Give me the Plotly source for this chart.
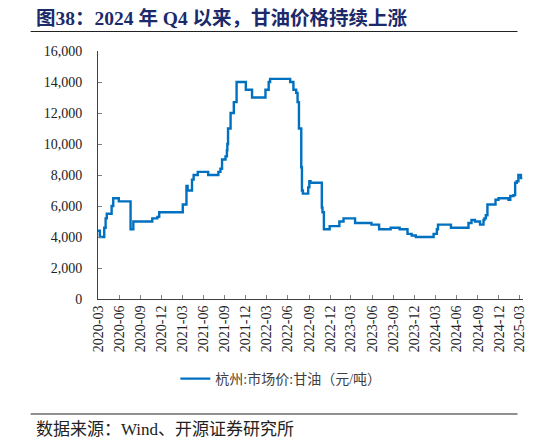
import plotly.graph_objects as go

dates = ['2020-03-01', '2020-03-09', '2020-03-28', '2020-04-03', '2020-04-08', '2020-04-29',
         '2020-05-06', '2020-05-30', '2020-07-20', '2020-08-01', '2020-10-22', '2020-11-13',
         '2020-11-21', '2021-03-03', '2021-03-19', '2021-03-24', '2021-04-12', '2021-04-19',
         '2021-05-07', '2021-06-21', '2021-08-04', '2021-08-13', '2021-08-20', '2021-09-04',
         '2021-09-10', '2021-09-12', '2021-09-15', '2021-09-26', '2021-10-10', '2021-10-22',
         '2021-12-01', '2021-12-28', '2022-02-24', '2022-03-10', '2022-03-16', '2022-06-11',
         '2022-06-25', '2022-07-07', '2022-07-13', '2022-07-19', '2022-07-29', '2022-08-01',
         '2022-08-05', '2022-08-28', '2022-09-02', '2022-09-07', '2022-10-26', '2022-10-29',
         '2022-11-04', '2022-11-29', '2023-01-10', '2023-01-28', '2023-03-19', '2023-05-29',
         '2023-07-01', '2023-08-20', '2023-09-28', '2023-11-01', '2023-11-19', '2023-12-07',
         '2024-02-22', '2024-03-07', '2024-03-12', '2024-05-07', '2024-07-22', '2024-08-04',
         '2024-08-19', '2024-09-10', '2024-09-25', '2024-09-29', '2024-10-05', '2024-10-12',
         '2024-11-16', '2024-11-29', '2025-01-11', '2025-01-19', '2025-02-02', '2025-02-09',
         '2025-02-16', '2025-02-23', '2025-03-06', '2025-03-12']
prices = [4400, 4000, 4600, 5200, 5500, 6000,
          6500, 6300, 4500, 5000, 5200, 5300,
          5600, 6100, 7300, 7000, 7700, 8000,
          8200, 8000, 8200, 8400, 9000, 9200,
          9600, 10000, 11000, 12000, 12700, 14000,
          13500, 13000, 13500, 14000, 14200, 14000,
          13500, 13300, 12700, 11000, 8500, 7000,
          6800, 7200, 7600, 7500, 5900, 5600,
          4500, 4700, 5000, 5200, 4900, 4800,
          4500, 4600, 4500, 4200, 4100, 4000,
          4200, 4500, 4800, 4600, 4900, 5100,
          5000, 4800, 5100, 5200, 5400, 6100,
          6400, 6500, 6400, 6650, 6700, 7500,
          7600, 8000, 7800, 7800]

series_name = '杭州:市场价:甘油（元/吨）'
title = '<b>图38：2024 年 Q4 以来，甘油价格持续上涨</b>'
source = '数据来源：Wind、开源证券研究所'

serif = 'Liberation Serif, Noto Sans CJK SC'

# the page puts the figure 8px in from the top-left, so the figure is 8px smaller
fig = go.Figure()
fig.add_trace(go.Scatter(x=dates, y=prices, mode='lines', name=series_name,
                         line=dict(color='#0070C0', width=2.4, shape='hv')))

fig.update_layout(
    width=538, height=436,
    margin=dict(l=89.5, r=22.5, t=43, b=145, autoexpand=False),
    paper_bgcolor='white', plot_bgcolor='white',
    font=dict(family=serif, size=14, color='#222222'),
    showlegend=True,
    legend=dict(orientation='h', x=0.182, xanchor='left', y=-0.3226, yanchor='middle',
                font=dict(size=14, color='#404040'), bgcolor='rgba(0,0,0,0)'),
    xaxis=dict(type='date', range=['2020-03-01', '2025-03-15'],
               tick0='2020-03-01', dtick='M3', tickformat='%Y-%m', tickangle=-90,
               ticks='inside', ticklen=4, tickcolor='#808080',
               showline=True, linecolor='#404040', linewidth=1,
               showgrid=False, zeroline=False, tickfont=dict(size=14)),
    yaxis=dict(range=[0, 16000], dtick=2000, tickformat=',',
               ticks='inside', ticklen=4, tickcolor='#808080',
               showline=True, linecolor='#404040', linewidth=1,
               showgrid=False, zeroline=False, ticklabelstandoff=12,
               tickfont=dict(size=14)),
)

fig.add_annotation(text=title, xref='paper', yref='paper', x=-0.1514, y=1.133,
                   xanchor='left', yanchor='middle', showarrow=False,
                   font=dict(size=19.5, color='#1B2A6B', family=serif))
fig.add_annotation(text=source, xref='paper', yref='paper', x=-0.1514, y=-0.528,
                   xanchor='left', yanchor='middle', showarrow=False,
                   font=dict(size=17, color='#222222', family=serif))
fig.add_shape(type='line', xref='paper', yref='paper', x0=-0.1585, x1=0.987,
              y0=1.0786, y1=1.0786, line=dict(color='#222222', width=1))
fig.add_shape(type='line', xref='paper', yref='paper', x0=-0.1585, x1=0.987,
              y0=-0.4637, y1=-0.4637, line=dict(color='#222222', width=1))

fig.write_html("out.html")
